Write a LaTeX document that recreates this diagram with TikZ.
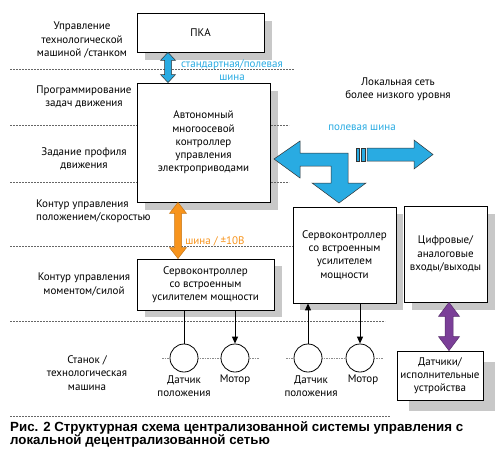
\documentclass[tikz,border=0pt]{standalone}
\usepackage{fontspec}
\setmainfont{PT Sans}
\newfontfamily\capfont{Liberation Sans}
\usetikzlibrary{arrows.meta,backgrounds,calc}
\definecolor{busblue}{HTML}{29ABE2}
\definecolor{busorange}{HTML}{F7941D}
\definecolor{buspurple}{HTML}{7B3F98}
\definecolor{shadowgray}{HTML}{C8C8C8}
\newcommand\lblfont{\fontsize{11}{13.2}\selectfont}
\tikzset{
  box/.style={draw, line width=0.8pt, fill=white, inner sep=0pt, align=center, font=\lblfont},
  lbl/.style={inner sep=0pt, align=center, font=\lblfont},
  sensor/.style={circle, draw, line width=0.8pt, fill=white, minimum size=28pt, inner sep=0pt},
  levelline/.style={draw=black!60, line width=0.6pt, dash pattern=on 2pt off 1pt},
  dotline/.style={draw=black!45, line width=0.6pt, dash pattern=on 1.5pt off 1pt},
  sig/.style={line width=0.9pt},
  sigarrow/.style={line width=0.9pt, -{Triangle[length=7pt,width=6pt]}},
  bluebus/.style={fill=busblue, draw=black!80, line width=0.5pt},
  orangebus/.style={fill=busorange, draw=busorange!80!black, line width=0.5pt},
  purplebus/.style={fill=buspurple, draw=buspurple!70!black, line width=0.5pt},
}
% vertical double arrow: #1 style, #2 top anchor, #3 bottom anchor, #4 x, #5 shaft half width, #6 head half width, #7 head length
\newcommand\vdarrow[7]{%
  \path[#1] let \p1=(#2), \p2=(#3) in
    ({#4pt-#5pt},{\y1-#7pt}) -- ({#4pt-#6pt},{\y1-#7pt}) -- ({#4pt},{\y1}) --
    ({#4pt+#6pt},{\y1-#7pt}) -- ({#4pt+#5pt},{\y1-#7pt}) --
    ({#4pt+#5pt},{\y2+#7pt}) -- ({#4pt+#6pt},{\y2+#7pt}) -- ({#4pt},{\y2}) --
    ({#4pt-#6pt},{\y2+#7pt}) -- ({#4pt-#5pt},{\y2+#7pt}) -- cycle;}
\newcommand\boxshadow[3]{\fill[shadowgray] ($(#1.north west)+(#2,#3)$) rectangle ($(#1.south east)+(#2,#3)$);}
\begin{document}
\begin{tikzpicture}[x=1pt,y=-1pt]
\useasboundingbox (0,0) rectangle (500,458);

% boxes
\node[box, minimum width=127pt, minimum height=39pt] (pka) at (200.5,32.5) {ПКА};
\node[box, minimum width=133pt, minimum height=119pt] (ctrl) at (203.5,142.5) {Автономный\\многоосевой\\контроллер\\управления\\электроприводами};
\node[box, minimum width=137pt, minimum height=51pt] (srvA) at (205.5,284.5) {Сервоконтроллер\\со встроенным\\усилителем мощности};
\node[box, minimum width=103pt, minimum height=96pt] (srvB) at (344.5,255) {Сервоконтроллер\\со встроенным\\усилителем\\мощности};
\node[box, minimum width=83pt, minimum height=96pt] (io) at (445.5,254) {Цифровые/\\аналоговые\\входы/выходы};
\node[box, minimum width=86pt, minimum height=49pt] (sens) at (440,375.5) {Датчики/\\исполнительные\\устройства};

% level labels
\node[lbl] (l1) at (82,40) {Управление\\технологической\\машиной /станком};
\node[lbl] (l2) at (84,96.5) {Программирование\\задач движения};
\node[lbl] (l3) at (84,158.5) {Задание профиля\\движения};
\node[lbl, align=left, anchor=west] (l4) at (36,211.5) {Контур управления\\положением/скоростью};
\node[lbl] (l5) at (84,284.5) {Контур управления\\моментом/силой};
\node[lbl] (l6) at (87,373) {Станок /\\технологическая\\машина};

% bus labels
\node[lbl, text=busblue] (b1) at (232,70.5) {стандартная/полевая\\шина};
\node[lbl, text=busorange] (b2) at (215,241) {шина / ±10В};
\node[lbl, text=busblue] (b3) at (362,128) {полевая шина};
\node[lbl] (net) at (398,89) {Локальная сеть\\более низкого уровня};

% sensors and motors
\node[sensor] (c1) at (184,358) {};
\node[sensor] (c2) at (235,358) {};
\node[sensor] (c3) at (308,358) {};
\node[sensor] (c4) at (360,358) {};
\node[lbl] (c1l) at (184,386) {Датчик\\положения};
\node[lbl] (c2l) at (235,379.5) {Мотор};
\node[lbl] (c3l) at (311,386) {Датчик\\положения};
\node[lbl] (c4l) at (363,379.5) {Мотор};

% caption
\node[anchor=north west, align=left, inner sep=0pt, font=\capfont\bfseries\fontsize{13.3}{12.5}\selectfont] (cap) at (10,421) {Рис. 2 Структурная схема централизованной системы управления с\\локальной децентрализованной сетью};

% level line end points
\coordinate (h1a) at (10,69);  \coordinate (h1b) at (294,69);
\coordinate (h2a) at (10,125); \coordinate (h2b) at (289,125);
\coordinate (h3a) at (10,182); \coordinate (h3b) at (289,182);
\coordinate (h4a) at (10,246); \coordinate (h4b) at (srvB.west |- 0,246);
\coordinate (h5a) at (10,321); \coordinate (h5b) at (385,321);
\coordinate (h6a) at (10,416); \coordinate (h6b) at (390,416);
\coordinate (d1a) at (162,358); \coordinate (d1b) at (259,358);
\coordinate (d2a) at (286,358); \coordinate (d2b) at (383,358);

\begin{scope}[on background layer]
  \boxshadow{pka}{8}{8}
  \boxshadow{ctrl}{8}{8}
  \boxshadow{srvA}{8}{7}
  \boxshadow{srvB}{7}{7}
  \boxshadow{io}{8}{8}
  \boxshadow{sens}{12}{11}
  \draw[levelline] (h1a) -- (h1b);
  \draw[levelline] (h2a) -- (h2b);
  \draw[levelline] (h3a) -- (h3b);
  \draw[levelline] (h4a) -- (h4b);
  \draw[levelline] (h5a) -- (h5b);
  \draw[levelline] (h6a) -- (h6b);
  \draw[dotline] (d1a) -- (d1b);
  \draw[dotline] (d2a) -- (d2b);
\end{scope}

% signal lines
\draw[sig] (c1.north) -- (c1 |- srvA.south);
\draw[sigarrow] (c2 |- srvA.south) -- (c2.north);
\draw[sigarrow] (c3.north) -- (c3 |- srvB.south);
\draw[sigarrow] (c4 |- srvB.south) -- (c4.north);

% buses
\vdarrow{bluebus}{pka.south}{ctrl.north}{168}{3.5}{7.5}{8}
\vdarrow{orangebus}{ctrl.south}{srvA.north}{178}{3.5}{8.5}{11}
\vdarrow{purplebus}{io.south}{sens.north}{449}{4}{10.5}{14}

% field bus (lower level local network)
\path[bluebus] (274,159) -- (300,141) -- (300,153) -- (348,153) -- (348,183) -- (366,183)
  -- (339,203) -- (312,183) -- (331,183) -- (331,166) -- (300,166) -- (300,178) -- cycle;
\path[bluebus] (356,148) rectangle (359,161);
\path[bluebus] (361,148) rectangle (365,161);
\path[bluebus] (367,148) -- (414,148) -- (414,140) -- (433,154.5) -- (414,169) -- (414,161) -- (367,161) -- cycle;
\end{tikzpicture}
\end{document}
